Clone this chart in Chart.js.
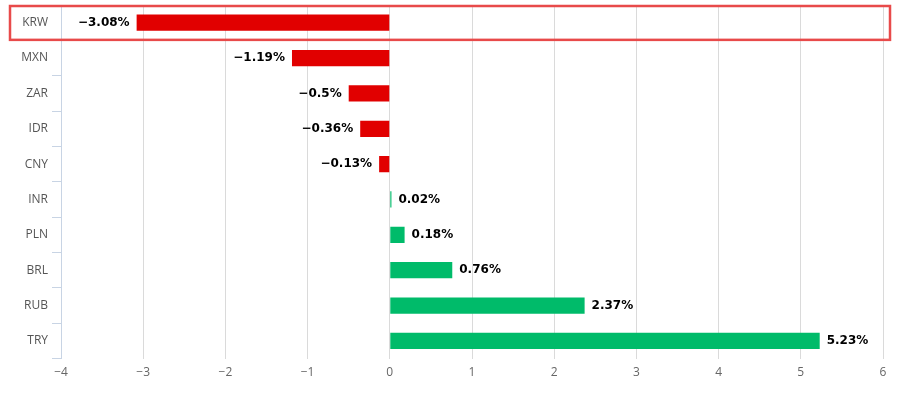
<!DOCTYPE html>
<html>
<head>
<meta charset="utf-8">
<script src="https://cdn.jsdelivr.net/npm/chart.js@4.4.0/dist/chart.umd.min.js"></script>
<style>
  html, body { margin: 0; padding: 0; background: #fff; }
  #wrap { width: 903px; height: 397px; }
</style>
</head>
<body>
<div id="wrap"><canvas id="fxChart"></canvas></div>
<script>
const currencies = ["KRW", "MXN", "ZAR", "IDR", "CNY", "INR", "PLN", "BRL", "RUB", "TRY"];
const changes = [-3.08, -1.19, -0.5, -0.36, -0.13, 0.02, 0.18, 0.76, 2.37, 5.23];
const highlighted = "KRW";

function fmt(v) {
  return (v < 0 ? "\u2212" : "") + Math.abs(v);
}

// value labels at the end of each bar
const valueLabels = {
  id: "valueLabels",
  afterDatasetsDraw(chart) {
    const ctx = chart.ctx;
    const meta = chart.getDatasetMeta(0);
    ctx.save();
    ctx.font = "bold 12px 'DejaVu Sans', Verdana, sans-serif";
    ctx.fillStyle = "#000";
    ctx.textBaseline = "middle";
    meta.data.forEach((bar, i) => {
      const v = changes[i];
      const txt = fmt(v) + "%";
      if (v < 0) {
        ctx.textAlign = "right";
        ctx.fillText(txt, bar.x - 7, bar.y);
      } else {
        ctx.textAlign = "left";
        ctx.fillText(txt, bar.x + 7, bar.y);
      }
    });
    ctx.restore();
  }
};

// red frame round the highlighted row
const rowFrame = {
  id: "rowFrame",
  afterDraw(chart) {
    const y = chart.scales.y;
    const i = currencies.indexOf(highlighted);
    if (i < 0) return;
    const half = (y.getPixelForValue(1) - y.getPixelForValue(0)) / 2;
    const cy = y.getPixelForValue(i);
    const ctx = chart.ctx;
    ctx.save();
    ctx.strokeStyle = "#e84a4a";
    ctx.lineWidth = 2.5;
    ctx.strokeRect(10, cy - half + 1, 880, half * 2 - 1.5);
    ctx.restore();
  }
};

new Chart(document.getElementById("fxChart"), {
  type: "bar",
  data: {
    labels: currencies,
    datasets: [{
      data: changes,
      backgroundColor: changes.map(v => v < 0 ? "#e10000" : "#00bb6a"),
      barPercentage: 0.46,
      categoryPercentage: 1
    }]
  },
  options: {
    indexAxis: "y",
    responsive: true,
    maintainAspectRatio: false,
    animation: false,
    layout: { padding: { top: 5, right: 20, bottom: 10, left: 0 } },
    plugins: {
      legend: { display: false },
      tooltip: { enabled: false }
    },
    scales: {
      x: {
        min: -4,
        max: 6,
        ticks: {
          stepSize: 1,
          color: "#666",
          font: { family: "'Open Sans', sans-serif", size: 12 },
          padding: 7,
          callback: v => fmt(v)
        },
        grid: { color: "#dadada", drawTicks: false },
        border: { display: false }
      },
      y: {
        offset: true,
        ticks: {
          color: "#555",
          font: { family: "'Open Sans', sans-serif", size: 12 },
          padding: 4
        },
        grid: {
          offset: true,
          drawOnChartArea: false,
          color: "#c8d4e4",
          tickLength: 9
        },
        border: { color: "#c8d4e4" },
        afterFit(scale) {
          scale.width = 61;
          scale.paddingTop = 0;
          scale.paddingBottom = 0;
        }
      }
    }
  },
  plugins: [valueLabels, rowFrame]
});
</script>
</body>
</html>
